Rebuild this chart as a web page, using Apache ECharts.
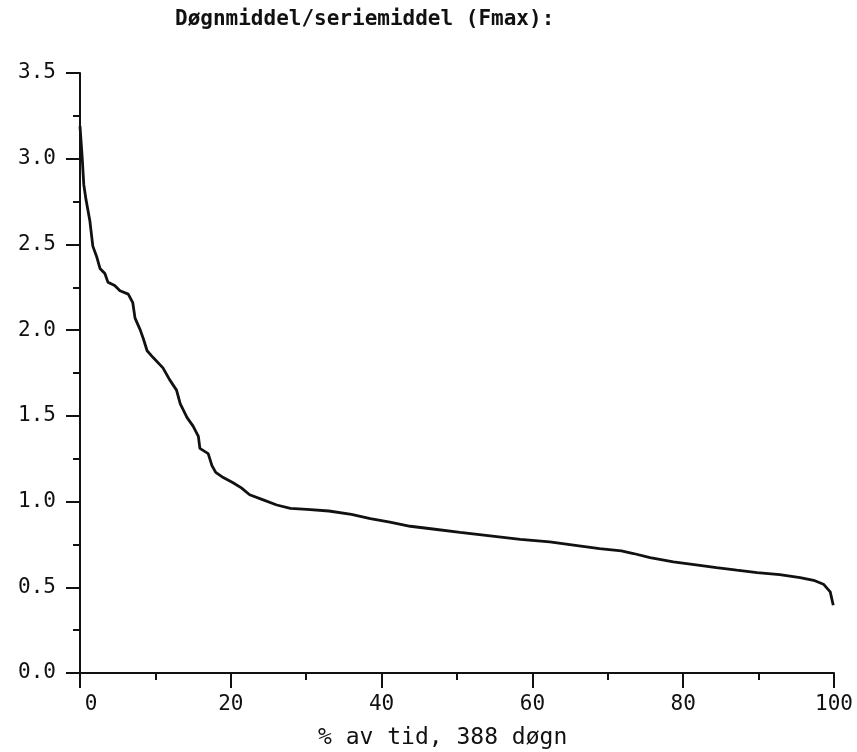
<!DOCTYPE html>
<html>
<head>
<meta charset="utf-8">
<script src="https://cdn.jsdelivr.net/npm/echarts@6/dist/echarts.min.js"></script>
<style>html,body{margin:0;padding:0;background:#fff;}#c{width:857px;height:752px;}</style>
</head>
<body>
<div id="c"></div>
<script>
const chartTitle = 'Døgnmiddel/seriemiddel (Fmax):';
const xTitle = '% av tid, 388 døgn';
const xTicks = [0, 20, 40, 60, 80, 100];
const yTicks = [0.0, 0.5, 1.0, 1.5, 2.0, 2.5, 3.0, 3.5];
const pctTime = [0, 0.3, 0.5, 0.8, 1.3, 1.7, 2.2, 2.65, 3.3, 3.7, 4.6, 5.3, 6.4, 7.0, 7.3, 8.0, 8.4, 8.9, 9.7, 11.0, 11.9, 12.8, 13.3, 14.2, 15.0, 15.7, 15.9, 17.0, 17.5, 18.0, 19.0, 20.3, 21.4, 22.5, 24.3, 26.1, 27.9, 30.1, 33, 36, 38.5, 41.1, 43.8, 46.8, 50.4, 54.4, 58.4, 62.3, 65.7, 68.9, 71.8, 73.4, 75.6, 78.7, 82.2, 84.4, 87.1, 89.8, 92.8, 95.5, 97.3, 98.6, 99.5, 99.9];
const ratio = [3.19, 3.0, 2.85, 2.76, 2.64, 2.49, 2.43, 2.36, 2.33, 2.28, 2.26, 2.23, 2.21, 2.16, 2.07, 2.0, 1.95, 1.88, 1.84, 1.78, 1.71, 1.65, 1.57, 1.49, 1.44, 1.38, 1.31, 1.28, 1.21, 1.17, 1.14, 1.11, 1.08, 1.04, 1.01, 0.98, 0.96, 0.955, 0.945, 0.925, 0.9, 0.88, 0.856, 0.84, 0.82, 0.80, 0.78, 0.765, 0.745, 0.726, 0.712, 0.697, 0.673, 0.648, 0.628, 0.615, 0.6, 0.586, 0.574, 0.557, 0.541, 0.518, 0.473, 0.395];

const font = '"DejaVu Sans Mono", "Liberation Mono", monospace';
const chart = echarts.init(document.getElementById('c'), null, {renderer: 'canvas'});
const data = pctTime.map((x, i) => [x, ratio[i]]);
chart.setOption({
  animation: false,
  backgroundColor: '#fff',
  grid: {left: 80, right: 23, top: 73, bottom: 79},
  graphic: [
    {type: 'text', left: 175, top: 9, style: {text: chartTitle, font: 'bold 21px ' + font, fill: '#111'}},
    {type: 'text', left: 318, top: 727, style: {text: xTitle, font: '23px ' + font, fill: '#111'}}
  ],
  xAxis: {
    type: 'value', min: xTicks[0], max: xTicks[xTicks.length - 1], interval: 20,
    axisLine: {lineStyle: {color: '#111', width: 2}},
    axisTick: {length: 15, lineStyle: {color: '#111', width: 2}},
    minorTick: {show: true, splitNumber: 2, length: 7, lineStyle: {color: '#111', width: 2}},
    splitLine: {show: false},
    axisLabel: {
      margin: 21, color: '#111', fontFamily: font, fontSize: 21,
      formatter: v => v === 0 ? '{z|0}' : String(v),
      rich: {z: {padding: [0, 0, 0, 22], fontFamily: font, fontSize: 21, color: '#111'}}
    }
  },
  yAxis: {
    type: 'value', min: yTicks[0], max: yTicks[yTicks.length - 1], interval: 0.5,
    axisLine: {show: true, lineStyle: {color: '#111', width: 2}},
    axisTick: {show: true, length: 14, lineStyle: {color: '#111', width: 2}},
    minorTick: {show: true, splitNumber: 2, length: 7, lineStyle: {color: '#111', width: 2}},
    splitLine: {show: false},
    axisLabel: {margin: 24, color: '#111', fontFamily: font, fontSize: 21, formatter: v => v.toFixed(1)}
  },
  series: [{
    type: 'line', data: data, showSymbol: false, symbol: 'none',
    lineStyle: {color: '#111', width: 2.8}
  }]
});
</script>
</body>
</html>
